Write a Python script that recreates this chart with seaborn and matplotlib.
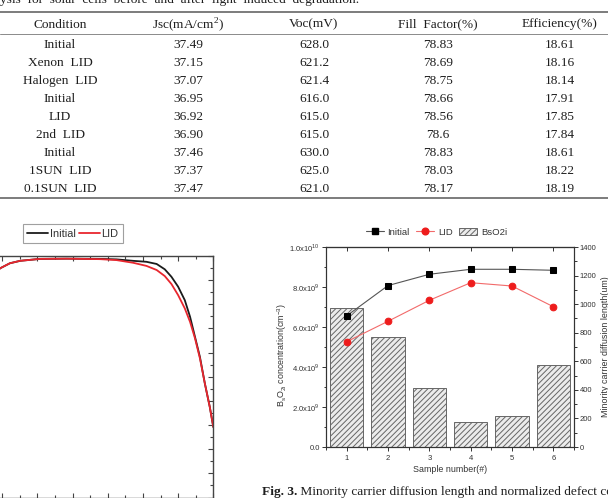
import matplotlib
matplotlib.use("Agg")
import matplotlib.pyplot as plt
import matplotlib.ticker as mtick
from matplotlib.lines import Line2D
from matplotlib.patches import Patch
import seaborn as sns

# tabel: solceller foer og efter LID
headers = ["Condition", r"Jsc(mA/cm$^\mathregular{2}$)", "Voc(mV)", "Fill  Factor(%)", "Efficiency(%)"]
conditions = ["Initial", "Xenon  LID", "Halogen  LID", "Initial", "LID", "2nd  LID",
              "Initial", "1SUN  LID", "0.1SUN  LID"]
jsc = ["37.49", "37.15", "37.07", "36.95", "36.92", "36.90", "37.46", "37.37", "37.47"]
voc = ["628.0", "621.2", "621.4", "616.0", "615.0", "615.0", "630.0", "625.0", "621.0"]
fill_factor = ["78.83", "78.69", "78.75", "78.66", "78.56", "78.6", "78.83", "78.03", "78.17"]
efficiency = ["18.61", "18.16", "18.14", "17.91", "17.85", "17.84", "18.61", "18.22", "18.19"]

# venstre kurve (kun hoejre del er med paa siden)
wavelength = [420, 450, 494, 522, 551, 607, 683, 778, 825, 872, 910, 939, 962,
              981, 1000, 1019, 1034, 1048, 1062, 1076, 1090, 1100]
eqe_initial = [80.0, 88.0, 94.9, 97.0, 98.0, 98.8, 98.9, 98.8, 98.6, 98.0, 97.6, 96.7, 94.5,
               91.4, 87.3, 81.7, 74.8, 66.5, 58.2, 47.2, 37.5, 29.2]
eqe_lid = [80.0, 88.0, 94.9, 97.0, 98.0, 98.8, 98.9, 98.7, 98.3, 97.2, 95.9, 94.2, 91.7,
           88.4, 83.8, 78.3, 72.7, 65.9, 57.6, 47.2, 37.5, 29.2]

# Fig. 3
samples = [1, 2, 3, 4, 5, 6]
bso2i = [6.97e9, 5.51e9, 2.93e9, 1.23e9, 1.57e9, 4.10e9]
diff_initial = [918, 1130, 1209, 1244, 1244, 1237]
diff_lid = [737, 880, 1027, 1150, 1127, 982]
conc_ticks = [0, 2e9, 4e9, 6e9, 8e9, 1e10]
conc_tick_labels = ["0.0", r"2.0x10$^\mathregular{9}$", r"4.0x10$^\mathregular{9}$",
                    r"6.0x10$^\mathregular{9}$", r"8.0x10$^\mathregular{9}$",
                    r"1.0x10$^\mathregular{10}$"]
length_ticks = [0, 200, 400, 600, 800, 1000, 1200, 1400]

sns.set_theme(style="ticks")
plt.rcParams["font.family"] = ["Liberation Sans", "DejaVu Sans"]
plt.rcParams["hatch.linewidth"] = 0.7

W, H = 608, 498
fig = plt.figure(figsize=(W / 100, H / 100), dpi=100)
fig.patch.set_facecolor("white")

serif = ["Liberation Serif", "DejaVu Serif"]
txt_col = "#1e1e1e"

# ---- tabellen, tegnet i pixelkoordinater
ax_t = fig.add_axes([0, 1 - 205 / H, 1, 205 / H])
ax_t.set_xlim(0, W)
ax_t.set_ylim(205, 0)
ax_t.axis("off")

ax_t.text(0, 3.5, "ysis  for  solar  cells  before  and  after  light  induced  degradation.",
          family=serif, fontsize=9.6, color=txt_col, va="baseline", ha="left")

col_x = [60, 188, 314, 438, 560]
for x, h in zip(col_x, headers):
    ax_t.text(x, 23, h, family=serif, fontsize=9.6, color=txt_col, ha="center", va="center_baseline")

rows = list(zip(conditions, jsc, voc, fill_factor, efficiency))
for i, row in enumerate(rows):
    y = 43 + 18.05 * i
    for x, val in zip(col_x, row):
        ax_t.text(x, y, val, family=serif, fontsize=9.6, color=txt_col, ha="center", va="center_baseline")

ax_t.axhline(12.5, color="#666666", lw=1.2)
ax_t.axhline(34, color="#8a8a8a", lw=0.7)
ax_t.axhline(198, color="#666666", lw=1.2)

# ---- venstre graf
ax_l = fig.add_axes([-33 / W, 0.5 / H, 246.3 / W, 241.5 / H])
sns.lineplot(x=wavelength, y=eqe_initial, color="#1b1b1b", lw=1.3, ax=ax_l, legend=False)
sns.lineplot(x=wavelength, y=eqe_lid, color="#e8262e", lw=1.3, ax=ax_l, legend=False)
ax_l.set_xlim(400, 1100)
ax_l.set_ylim(0, 100)
ax_l.xaxis.set_major_locator(mtick.MultipleLocator(100))
ax_l.xaxis.set_minor_locator(mtick.MultipleLocator(50))
ax_l.yaxis.set_major_locator(mtick.MultipleLocator(10))
ax_l.yaxis.set_minor_locator(mtick.MultipleLocator(5))
ax_l.tick_params(which="both", direction="in", top=True, right=True, bottom=True, left=True,
                 labelbottom=False, labelleft=False, color="#444444", width=0.8)
ax_l.tick_params(which="major", length=3.5)
ax_l.tick_params(which="minor", length=2)
for spine in ax_l.spines.values():
    spine.set_visible(True)
    spine.set_color("#444444")
    spine.set_linewidth(1.0)

leg_l = fig.legend(
    handles=[Line2D([], [], color="#1b1b1b", lw=1.3), Line2D([], [], color="#e8262e", lw=1.3)],
    labels=["Initial", "LID"], loc="center", bbox_to_anchor=(73 / W, 1 - 233.5 / H),
    ncol=2, fontsize=7.9, frameon=True, fancybox=False, edgecolor="#888888",
    handlelength=1.9, handletextpad=0.15, columnspacing=0.3, borderpad=0.4,
)
leg_l.get_frame().set_linewidth(0.8)
for t in leg_l.get_texts():
    t.set_color("#333333")

# ---- Fig. 3
ax = fig.add_axes([326 / W, 1 - 447 / H, 248 / W, 200 / H])
ax2 = ax.twinx()

bar_face, bar_edge, bar_hatch = "#ececec", "#666666", "//////"
sns.barplot(x=samples, y=bso2i, native_scale=True, width=0.8, color=bar_face,
            saturation=1, edgecolor=bar_edge, linewidth=0.7, hatch=bar_hatch,
            errorbar=None, ax=ax)
sns.lineplot(x=samples, y=diff_initial, color="#555555", lw=0.8, marker="s", markersize=4.2,
             markerfacecolor="black", markeredgecolor="black", ax=ax2, legend=False)
sns.lineplot(x=samples, y=diff_lid, color="#f26a6a", lw=0.8, marker="o", markersize=4.8,
             markerfacecolor="#ee1c1c", markeredgecolor="#ee1c1c", ax=ax2, legend=False)

ax.set_xlim(0.5, 6.5)
ax.set_ylim(0, 1e10)
ax2.set_ylim(0, 1400)
ax.set_xticks(samples, [str(s) for s in samples])
ax.xaxis.set_minor_locator(mtick.MultipleLocator(0.5))
ax.set_yticks(conc_ticks, conc_tick_labels)
ax.yaxis.set_minor_locator(mtick.MultipleLocator(1e9))
ax2.set_yticks(length_ticks)
ax2.yaxis.set_minor_locator(mtick.MultipleLocator(100))

lab_col = "#333333"
for a in (ax, ax2):
    a.tick_params(which="both", direction="out", color=lab_col, width=0.7,
                  labelsize=5.5, labelcolor=lab_col, pad=1.2)
    a.tick_params(which="major", length=3)
    a.tick_params(which="minor", length=1.8)
    for spine in a.spines.values():
        spine.set_visible(True)
        spine.set_color(lab_col)
        spine.set_linewidth(0.8)
ax.tick_params(axis="x", pad=2.5)

top = ax.secondary_xaxis("top")
top.set_xticks(samples)
top.tick_params(direction="in", length=3, width=0.7, color=lab_col, labeltop=False)
top.spines["top"].set_color(lab_col)
top.spines["top"].set_linewidth(0.8)

ax.set_xlabel("Sample number(#)", fontsize=6.4, color=lab_col)
ax.xaxis.set_label_coords(0.5, -0.09)
ax.set_ylabel(r"B$_\mathregular{s}$O$_\mathregular{2i}$ concentration(cm$^\mathregular{-3}$)",
              fontsize=6.4, color=lab_col)
ax.yaxis.set_label_coords(-0.15, 0.46)
ax2.set_ylabel("Minority carrier diffusion length(um)", fontsize=6.4, color=lab_col)
ax2.yaxis.set_label_coords(1.11, 0.5)

handles = [
    Line2D([], [], color="#555555", lw=0.8, marker="s", markersize=4.2,
           markerfacecolor="black", markeredgecolor="black"),
    Line2D([], [], color="#f26a6a", lw=0.8, marker="o", markersize=4.8,
           markerfacecolor="#ee1c1c", markeredgecolor="#ee1c1c"),
    Patch(facecolor=bar_face, edgecolor=bar_edge, hatch=bar_hatch, linewidth=0.7),
]
leg_r = fig.legend(handles=handles, labels=["Initial", "LID", "BsO2i"], loc="center",
                   bbox_to_anchor=(436.5 / W, 1 - 232 / H), ncol=3, frameon=False,
                   fontsize=6.8, handlelength=1.9, handletextpad=0.4, columnspacing=0.7,
                   borderpad=0)
for t in leg_r.get_texts():
    t.set_color(lab_col)

# figurtekst: fed "Fig. 3." og resten lige efter
cap = fig.text(262 / W, 1 - 495 / H, "Fig. 3.", family=serif, fontsize=9.6,
               fontweight="bold", color=txt_col, va="baseline", ha="left")
ax_t.annotate(" Minority carrier diffusion length and normalized defect concentration",
              xy=(1, 0), xycoords=cap, va="bottom", ha="left",
              family=serif, fontsize=9.6, color=txt_col, annotation_clip=False)

fig.savefig("out.png", dpi=100)
